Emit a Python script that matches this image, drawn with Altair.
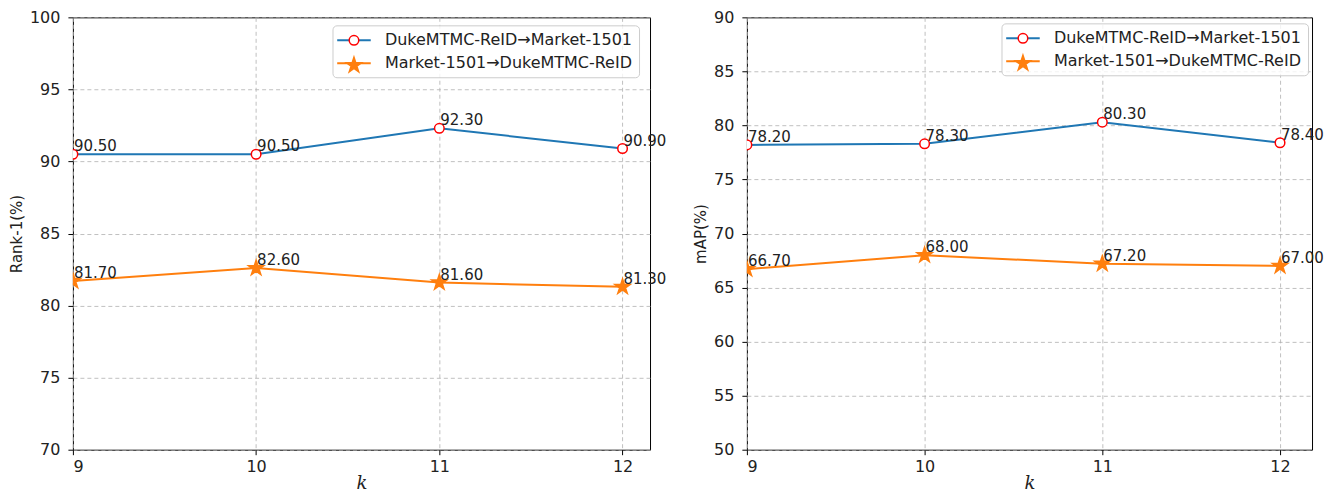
import altair as alt
import pandas as pd

k_values = [9, 10, 11, 12]
series_names = ["DukeMTMC-ReID→Market-1501", "Market-1501→DukeMTMC-ReID"]
rank1_duke_to_market = [90.5, 90.5, 92.3, 90.9]
rank1_market_to_duke = [81.7, 82.6, 81.6, 81.3]
map_duke_to_market = [78.2, 78.3, 80.3, 78.4]
map_market_to_duke = [66.7, 68.0, 67.2, 67.0]
rank1_ticks = [70, 75, 80, 85, 90, 95, 100]
map_ticks = [50, 55, 60, 65, 70, 75, 80, 85, 90]

BLUE = "#1f77b4"
ORANGE = "#ff7f0e"
TXT = "#222222"
LINE_PATH = "M-2.1,0L2.1,0"
CIRCLE_PATH = "M-0.6,0A0.6,0.6,0,1,1,0.6,0A0.6,0.6,0,1,1,-0.6,0Z"
STAR_PATH = ("M0,-1L0.2245,-0.309L0.951,-0.309L0.363,0.118L0.588,0.809L0,0.382"
             "L-0.588,0.809L-0.363,0.118L-0.951,-0.309L-0.2245,-0.309Z")


def make_df(a, b):
    rows = []
    for s, vals in zip(series_names, [a, b]):
        for k, v in zip(k_values, vals):
            rows.append({"k": k, "value": v, "series": s, "marker": s})
    return pd.DataFrame(rows)


def panel(df, ytitle, ydomain, yticks, xmax, w, lx, ly):
    x = alt.X("k:Q", scale=alt.Scale(domain=[9, xmax], nice=False, zero=False),
              axis=alt.Axis(values=k_values, title="k", format="d", labelPadding=4,
                            titleFont="DejaVu Serif", titleFontStyle="italic",
                            titleFontSize=18, titlePadding=0))
    y = alt.Y("value:Q", scale=alt.Scale(domain=ydomain, nice=False, zero=False),
              axis=alt.Axis(values=yticks, title=ytitle, labelPadding=8, titlePadding=5))
    common = dict(orient="none", legendX=lx, legendY=ly, title=None,
                  symbolSize=256, symbolOffset=6.5, labelOffset=22,
                  labelFontSize=16, labelFont="DejaVu Sans", labelLimit=500,
                  padding=6, rowPadding=6)
    legA = alt.Legend(symbolType=LINE_PATH, symbolStrokeWidth=2, labelColor=TXT,
                      fillColor="rgba(255,255,255,0.8)", strokeColor="#cccccc",
                      cornerRadius=4, **common)
    legB = alt.Legend(symbolStrokeWidth=1.5, labelColor="transparent", **common)

    line = alt.Chart(df).mark_line(strokeWidth=2, clip=True).encode(
        x=x, y=y,
        color=alt.Color("series:N", scale=alt.Scale(range=[BLUE, ORANGE]), legend=legA))
    pts = alt.Chart(df).mark_point(filled=True, size=256, strokeWidth=1.5, opacity=1,
                                   clip=True).encode(
        x=x, y=y,
        shape=alt.Shape("marker:N", scale=alt.Scale(range=[CIRCLE_PATH, STAR_PATH]), legend=legB),
        fill=alt.Fill("marker:N", scale=alt.Scale(range=["white", ORANGE]), legend=legB),
        stroke=alt.Stroke("marker:N", scale=alt.Scale(range=["red", ORANGE]), legend=legB))
    text = alt.Chart(df).mark_text(align="left", baseline="alphabetic", dx=1, dy=-3,
                                   fontSize=15, font="DejaVu Sans", color=TXT).encode(
        x=x, y=y, text=alt.Text("value:Q", format=".2f"))
    return alt.layer(line, pts, text).properties(width=w, height=433)


left = panel(make_df(rank1_duke_to_market, rank1_market_to_duke), "Rank-1(%)",
             [70, 100], rank1_ticks, 12.15, 578, 260, 8)
right = panel(make_df(map_duke_to_market, map_market_to_duke), "mAP(%)",
              [50, 90], map_ticks, 12.18, 566, 255, 6)

chart = alt.hconcat(left, right, spacing=97, bounds="flush").resolve_scale(
    color="independent", shape="independent", fill="independent", stroke="independent",
    x="independent", y="independent"
).resolve_legend(
    color="independent", shape="independent", fill="independent", stroke="independent"
).properties(
    padding={"left": 0, "top": 0, "right": 0, "bottom": 0}
).configure_view(stroke="black", strokeWidth=1).configure_axis(
    labelFont="DejaVu Sans", labelFontSize=16, labelColor=TXT,
    titleFont="DejaVu Sans", titleFontSize=15, titleFontWeight="normal", titleColor=TXT,
    tickColor="black", tickSize=5, domain=False, grid=True,
    gridColor="#b0b0b0", gridDash=[4, 3], gridWidth=0.8
)

chart.save("out.html", embed_options={"renderer": "svg", "actions": False})
